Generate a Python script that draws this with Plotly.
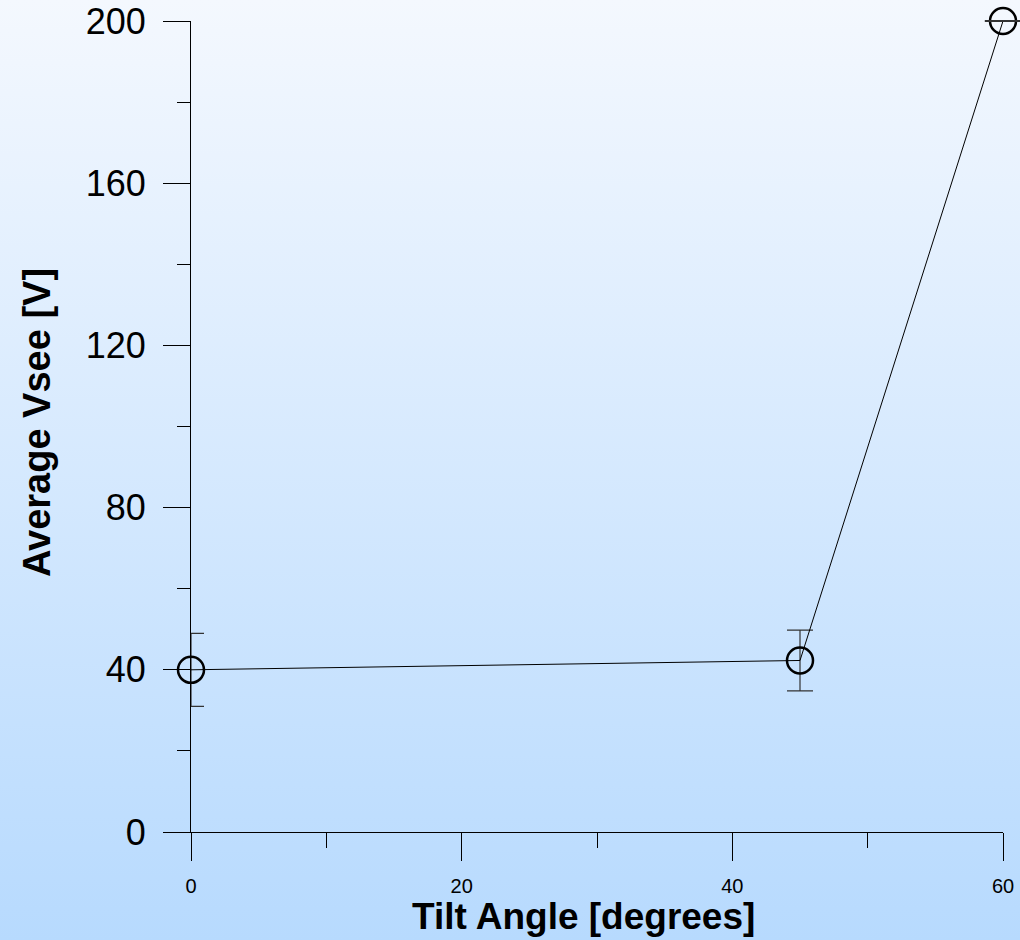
import base64
import plotly.graph_objects as go

# Data
tilt_angle = [0, 45, 60]
avg_vsee = [40, 42.3, 200]
vsee_err = [9, 7.5, 0]

x_tickvals = [0, 20, 40, 60]
y_tickvals = [0, 40, 80, 120, 160, 200]

x_title = "<b>Tilt Angle [degrees]</b>"
y_title = "<b>Average Vsee [V]</b>"

W, H = 1020, 940
L, R, T, B = 191, 17, 21, 108
pw = W - L - R
ph = H - T - B

svg = (
    '<svg xmlns="http://www.w3.org/2000/svg" width="100" height="100" preserveAspectRatio="none">'
    '<defs><linearGradient id="g" x1="0" y1="0" x2="0" y2="1">'
    '<stop offset="0" stop-color="#F4F8FE"/><stop offset="1" stop-color="#B7DAFE"/>'
    '</linearGradient></defs><rect width="100" height="100" fill="url(#g)"/></svg>'
)
src = "data:image/svg+xml;base64," + base64.b64encode(svg.encode()).decode()

fig = go.Figure()
fig.add_trace(go.Scatter(
    x=tilt_angle, y=avg_vsee,
    mode="lines+markers",
    line=dict(color="black", width=1),
    marker=dict(symbol="circle-open", size=26, color="black", line=dict(width=2.5, color="black")),
    error_y=dict(type="data", array=vsee_err, symmetric=True, visible=True,
                 color="#333333", thickness=1.2, width=13),
    cliponaxis=False,
    showlegend=False,
))

# zero-length error bars: draw their caps explicitly
zx = [x for x, e in zip(tilt_angle, vsee_err) if e == 0]
zy = [y for y, e in zip(avg_vsee, vsee_err) if e == 0]
fig.add_trace(go.Scatter(
    x=zx, y=zy, mode="markers",
    marker=dict(symbol="line-ew", size=26, line=dict(width=2, color="#333333")),
    cliponaxis=False, showlegend=False, hoverinfo="skip",
))

fig.update_layout(
    width=W, height=H,
    margin=dict(l=L, r=R, t=T, b=B, autoexpand=False),
    paper_bgcolor="rgba(0,0,0,0)",
    plot_bgcolor="rgba(0,0,0,0)",
    font=dict(family="Liberation Sans, Arial, sans-serif", color="black"),
    images=[dict(
        source=src, xref="paper", yref="paper",
        x=-L / pw, y=1 + T / ph, sizex=W / pw, sizey=H / ph,
        xanchor="left", yanchor="top", sizing="stretch", layer="below",
    )],
    xaxis=dict(
        range=[0, 60], tickvals=x_tickvals, ticks="outside", ticklen=28, tickwidth=1,
        tickcolor="black", showline=True, linecolor="black", linewidth=1,
        showgrid=False, zeroline=False, tickfont=dict(size=20), ticklabelstandoff=8,
        minor=dict(dtick=10, ticks="outside", ticklen=15, tickcolor="black", showgrid=False),
    ),
    yaxis=dict(
        range=[0, 200], tickvals=y_tickvals, ticks="outside", ticklen=27, tickwidth=1,
        tickcolor="black", showline=True, linecolor="black", linewidth=1,
        showgrid=False, zeroline=False, tickfont=dict(size=36), ticklabelstandoff=10,
        minor=dict(dtick=20, ticks="outside", ticklen=13, tickcolor="black", showgrid=False),
    ),
    annotations=[
        dict(text=x_title, xref="paper", yref="paper",
             x=(583 - L) / pw, y=(T + ph - 917) / ph,
             xanchor="center", yanchor="middle", showarrow=False, font=dict(size=37)),
        dict(text=y_title, xref="paper", yref="paper", textangle=-90,
             x=(37 - L) / pw, y=(T + ph - 423) / ph,
             xanchor="center", yanchor="middle", showarrow=False, font=dict(size=38)),
    ],
)

fig.write_html("out.html")
